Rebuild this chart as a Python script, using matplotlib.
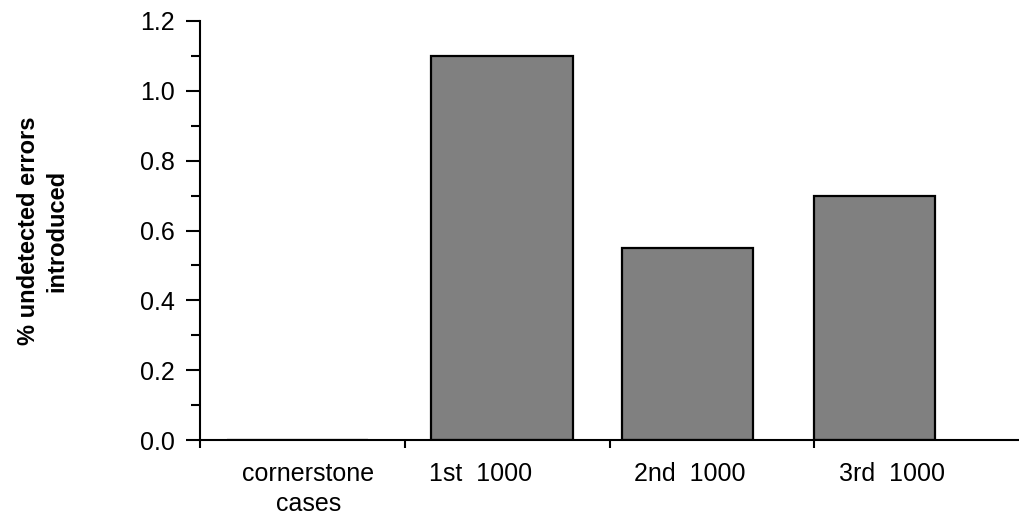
import matplotlib.pyplot as plt
import numpy as np

plt.rcParams["font.family"] = ["Liberation Sans", "DejaVu Sans"]

# data
categories = ["cornerstone\ncases", "1st  1000", "2nd  1000", "3rd  1000"]
values = [0.0, 1.1, 0.55, 0.70]
yticks = [0.0, 0.2, 0.4, 0.6, 0.8, 1.0, 1.2]
ylabel = "% undetected errors\nintroduced"

# per-category layout (in category units, each category is 1 wide)
bar_left = [0.13, 0.13, 0.06, 0.0]
bar_width = [0.69, 0.69, 0.64, 0.59]
label_pos = [0.53, 0.37, 0.39, 0.38]

fig = plt.figure(figsize=(10.19, 5.17), dpi=100)
ax = fig.add_axes([200 / 1019, 77 / 517, 1 - 200 / 1019, (440 - 21) / 517])

idx = np.arange(len(categories))
ax.bar(idx + np.array(bar_left), values, width=bar_width, align="edge",
       color="#808080", edgecolor="black", linewidth=1.6)

ax.set_xlim(0, len(categories))
ax.set_ylim(0, 1.2)

# category boundaries as major ticks, labels on invisible minor ticks
ax.set_xticks(idx)
ax.set_xticklabels([])
ax.set_xticks(idx + np.array(label_pos), minor=True)
ax.set_xticklabels(categories, minor=True, fontsize=18, linespacing=1.28)
ax.tick_params(axis="x", which="major", direction="out", length=6, width=1.5)
ax.tick_params(axis="x", which="minor", length=0, pad=16)

ax.set_yticks(yticks)
ax.set_yticklabels([f"{v:.1f}" for v in yticks], fontsize=18)
ax.set_yticks(np.arange(0.1, 1.2, 0.2), minor=True)
ax.tick_params(axis="y", which="major", direction="out", length=10, width=1.5, pad=8)
ax.tick_params(axis="y", which="minor", direction="out", length=6.5, width=1.5)

for s in ["top", "right"]:
    ax.spines[s].set_visible(False)
for s in ["left", "bottom"]:
    ax.spines[s].set_linewidth(1.5)

ax.set_ylabel(ylabel, fontsize=17, fontweight="bold", labelpad=52, linespacing=1.3)

fig.savefig("out.png", dpi=100)
